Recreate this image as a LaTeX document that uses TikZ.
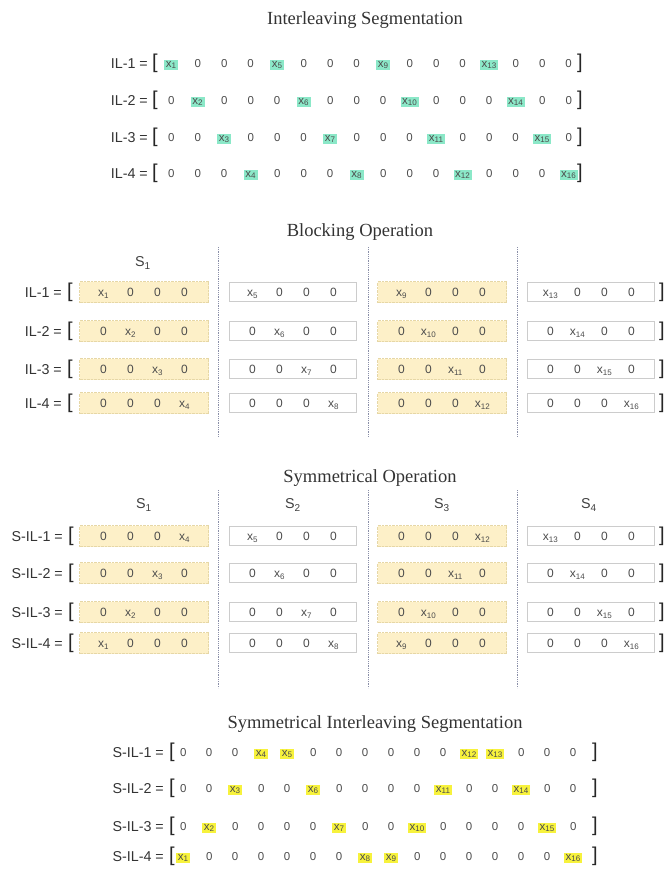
\documentclass[tikz,border=0pt]{standalone}
\usepackage{fontspec}
\setmainfont{Liberation Sans}
\newfontfamily\titlefont{Liberation Serif}

\definecolor{mint}{HTML}{8BE8C8}
\definecolor{hlyellow}{HTML}{F7F23C}
\definecolor{boxyellow}{HTML}{FDF0C8}
\definecolor{boxedge}{HTML}{E6D7A6}
\definecolor{sepgray}{HTML}{8A8FA8}

\newcommand{\cela}[1]{\makebox[26.5pt]{#1}}
\newcommand{\celb}[1]{\makebox[27pt]{#1}}
\newcommand{\celd}[1]{\makebox[26pt]{#1}}
\newcommand{\xs}[1]{x\textsubscript{#1}}
\newcommand{\hlg}[1]{{\setlength{\fboxsep}{1.5pt}\colorbox{mint}{#1}}}
\newcommand{\hly}[1]{{\setlength{\fboxsep}{1.5pt}\colorbox{hlyellow}{#1}}}

\begin{document}
\begin{tikzpicture}[x=1pt,y=-1pt,
  title/.style={font=\titlefont\fontsize{18.5}{20}\selectfont, text=black!80, inner sep=0},
  lbl/.style={anchor=east, font=\fontsize{14.3}{16}\selectfont, text=black!80, inner sep=0, text height=10.2pt, text depth=0pt},
  slbl/.style={font=\fontsize{14.3}{16}\selectfont, text=black!75, inner sep=0},
  brk/.style={font=\fontsize{20}{22}\selectfont, text=black!85, inner sep=0, text height=14.6pt, text depth=4.2pt},
  rowa/.style={anchor=west, inner sep=0, font=\fontsize{11.5}{13}\selectfont, text=black!70, text height=8.2pt, text depth=0pt},
  rowd/.style={anchor=west, inner sep=0, font=\fontsize{11.5}{13}\selectfont, text=black!70, text height=8.2pt, text depth=0pt},
  ybox/.style={fill=boxyellow, draw=boxedge, densely dotted, minimum width=129pt, minimum height=21pt, inner sep=0, font=\fontsize{12}{13}\selectfont, text=black!70, text height=8.6pt, text depth=0pt},
  wbox/.style={fill=white, draw=black!65, line width=0.6pt, double=black!20, double distance=0.7pt, minimum width=127pt, minimum height=19pt, inner sep=0, font=\fontsize{12}{13}\selectfont, text=black!70, text height=8.6pt, text depth=0pt},
  sepline/.style={sepgray, densely dotted, line width=0.8pt}]
\useasboundingbox (0,0) rectangle (665,869);

% Interleaving Segmentation
\node[title] (t-il) at (365,20) {Interleaving Segmentation};
\node[lbl] (il1-lb) at (148,63) {IL-1 =};
\node[lbl] (il2-lb) at (148,100) {IL-2 =};
\node[lbl] (il3-lb) at (148,137) {IL-3 =};
\node[lbl] (il4-lb) at (148,173) {IL-4 =};
\node[brk] (il1-l) at (155,63) {[};
\node[brk] (il2-l) at (155,100) {[};
\node[brk] (il3-l) at (155,137) {[};
\node[brk] (il4-l) at (155,173) {[};
\node[rowa] (il1) at (157.75,63) {\cela{\hlg{\xs{1}}}\cela{0}\cela{0}\cela{0}\cela{\hlg{\xs{5}}}\cela{0}\cela{0}\cela{0}\cela{\hlg{\xs{9}}}\cela{0}\cela{0}\cela{0}\cela{\hlg{\xs{13}}}\cela{0}\cela{0}\cela{0}};
\node[rowa] (il2) at (157.75,100) {\cela{0}\cela{\hlg{\xs{2}}}\cela{0}\cela{0}\cela{0}\cela{\hlg{\xs{6}}}\cela{0}\cela{0}\cela{0}\cela{\hlg{\xs{10}}}\cela{0}\cela{0}\cela{0}\cela{\hlg{\xs{14}}}\cela{0}\cela{0}};
\node[rowa] (il3) at (157.75,137) {\cela{0}\cela{0}\cela{\hlg{\xs{3}}}\cela{0}\cela{0}\cela{0}\cela{\hlg{\xs{7}}}\cela{0}\cela{0}\cela{0}\cela{\hlg{\xs{11}}}\cela{0}\cela{0}\cela{0}\cela{\hlg{\xs{15}}}\cela{0}};
\node[rowa] (il4) at (157.75,173) {\cela{0}\cela{0}\cela{0}\cela{\hlg{\xs{4}}}\cela{0}\cela{0}\cela{0}\cela{\hlg{\xs{8}}}\cela{0}\cela{0}\cela{0}\cela{\hlg{\xs{12}}}\cela{0}\cela{0}\cela{0}\cela{\hlg{\xs{16}}}};
\node[brk] (il1-r) at (580,63) {]};
\node[brk] (il2-r) at (580,100) {]};
\node[brk] (il3-r) at (580,137) {]};
\node[brk] (il4-r) at (580,173) {]};

% Blocking Operation
\node[title] (t-blk) at (360,232) {Blocking Operation};
\node[slbl] (b-s1) at (143,263) {S\textsubscript{1}};
\coordinate (b-sep1-t) at (218,247); \coordinate (b-sep1-b) at (218,437);
\coordinate (b-sep2-t) at (368,247); \coordinate (b-sep2-b) at (368,437);
\coordinate (b-sep3-t) at (517,247); \coordinate (b-sep3-b) at (517,437);
\draw[sepline] (b-sep1-t) -- (b-sep1-b);
\draw[sepline] (b-sep2-t) -- (b-sep2-b);
\draw[sepline] (b-sep3-t) -- (b-sep3-b);
\node[lbl] (b1-lb) at (62,292) {IL-1 =};
\node[lbl] (b2-lb) at (62,331) {IL-2 =};
\node[lbl] (b3-lb) at (62,369) {IL-3 =};
\node[lbl] (b4-lb) at (62,403) {IL-4 =};
\node[brk] (b1-l) at (70,292) {[};
\node[brk] (b2-l) at (70,331) {[};
\node[brk] (b3-l) at (70,369) {[};
\node[brk] (b4-l) at (70,403) {[};
\node[ybox] (b11) at (144,292) {\celb{\xs{1}}\celb{0}\celb{0}\celb{0}};
\node[ybox] (b21) at (144,331) {\celb{0}\celb{\xs{2}}\celb{0}\celb{0}};
\node[ybox] (b31) at (144,369) {\celb{0}\celb{0}\celb{\xs{3}}\celb{0}};
\node[ybox] (b41) at (144,403) {\celb{0}\celb{0}\celb{0}\celb{\xs{4}}};
\node[wbox] (b12) at (293,292) {\celb{\xs{5}}\celb{0}\celb{0}\celb{0}};
\node[wbox] (b22) at (293,331) {\celb{0}\celb{\xs{6}}\celb{0}\celb{0}};
\node[wbox] (b32) at (293,369) {\celb{0}\celb{0}\celb{\xs{7}}\celb{0}};
\node[wbox] (b42) at (293,403) {\celb{0}\celb{0}\celb{0}\celb{\xs{8}}};
\node[ybox] (b13) at (442,292) {\celb{\xs{9}}\celb{0}\celb{0}\celb{0}};
\node[ybox] (b23) at (442,331) {\celb{0}\celb{\xs{10}}\celb{0}\celb{0}};
\node[ybox] (b33) at (442,369) {\celb{0}\celb{0}\celb{\xs{11}}\celb{0}};
\node[ybox] (b43) at (442,403) {\celb{0}\celb{0}\celb{0}\celb{\xs{12}}};
\node[wbox] (b14) at (591,292) {\celb{\xs{13}}\celb{0}\celb{0}\celb{0}};
\node[wbox] (b24) at (591,331) {\celb{0}\celb{\xs{14}}\celb{0}\celb{0}};
\node[wbox] (b34) at (591,369) {\celb{0}\celb{0}\celb{\xs{15}}\celb{0}};
\node[wbox] (b44) at (591,403) {\celb{0}\celb{0}\celb{0}\celb{\xs{16}}};
\node[brk] (b1-r) at (662,292) {]};
\node[brk] (b2-r) at (662,331) {]};
\node[brk] (b3-r) at (662,369) {]};
\node[brk] (b4-r) at (662,403) {]};

% Symmetrical Operation
\node[title] (t-sym) at (370,478) {Symmetrical Operation};
\node[slbl] (s-s1) at (144,505) {S\textsubscript{1}};
\node[slbl] (s-s2) at (293,505) {S\textsubscript{2}};
\node[slbl] (s-s3) at (442,505) {S\textsubscript{3}};
\node[slbl] (s-s4) at (589,505) {S\textsubscript{4}};
\coordinate (s-sep1-t) at (218,490); \coordinate (s-sep1-b) at (218,688);
\coordinate (s-sep2-t) at (368,490); \coordinate (s-sep2-b) at (368,688);
\coordinate (s-sep3-t) at (517,490); \coordinate (s-sep3-b) at (517,688);
\draw[sepline] (s-sep1-t) -- (s-sep1-b);
\draw[sepline] (s-sep2-t) -- (s-sep2-b);
\draw[sepline] (s-sep3-t) -- (s-sep3-b);
\node[lbl] (s1-lb) at (63,536) {S-IL-1 =};
\node[lbl] (s2-lb) at (63,573) {S-IL-2 =};
\node[lbl] (s3-lb) at (63,612) {S-IL-3 =};
\node[lbl] (s4-lb) at (63,643) {S-IL-4 =};
\node[brk] (s1-l) at (71,536) {[};
\node[brk] (s2-l) at (71,573) {[};
\node[brk] (s3-l) at (71,612) {[};
\node[brk] (s4-l) at (71,643) {[};
\node[ybox] (s11) at (144,536) {\celb{0}\celb{0}\celb{0}\celb{\xs{4}}};
\node[ybox] (s21) at (144,573) {\celb{0}\celb{0}\celb{\xs{3}}\celb{0}};
\node[ybox] (s31) at (144,612) {\celb{0}\celb{\xs{2}}\celb{0}\celb{0}};
\node[ybox] (s41) at (144,643) {\celb{\xs{1}}\celb{0}\celb{0}\celb{0}};
\node[wbox] (s12) at (293,536) {\celb{\xs{5}}\celb{0}\celb{0}\celb{0}};
\node[wbox] (s22) at (293,573) {\celb{0}\celb{\xs{6}}\celb{0}\celb{0}};
\node[wbox] (s32) at (293,612) {\celb{0}\celb{0}\celb{\xs{7}}\celb{0}};
\node[wbox] (s42) at (293,643) {\celb{0}\celb{0}\celb{0}\celb{\xs{8}}};
\node[ybox] (s13) at (442,536) {\celb{0}\celb{0}\celb{0}\celb{\xs{12}}};
\node[ybox] (s23) at (442,573) {\celb{0}\celb{0}\celb{\xs{11}}\celb{0}};
\node[ybox] (s33) at (442,612) {\celb{0}\celb{\xs{10}}\celb{0}\celb{0}};
\node[ybox] (s43) at (442,643) {\celb{\xs{9}}\celb{0}\celb{0}\celb{0}};
\node[wbox] (s14) at (591,536) {\celb{\xs{13}}\celb{0}\celb{0}\celb{0}};
\node[wbox] (s24) at (591,573) {\celb{0}\celb{\xs{14}}\celb{0}\celb{0}};
\node[wbox] (s34) at (591,612) {\celb{0}\celb{0}\celb{\xs{15}}\celb{0}};
\node[wbox] (s44) at (591,643) {\celb{0}\celb{0}\celb{0}\celb{\xs{16}}};
\node[brk] (s1-r) at (662,536) {]};
\node[brk] (s2-r) at (662,573) {]};
\node[brk] (s3-r) at (662,612) {]};
\node[brk] (s4-r) at (662,643) {]};

% Symmetrical Interleaving Segmentation
\node[title] (t-sil) at (375,724) {Symmetrical Interleaving Segmentation};
\node[lbl] (sil1-lb) at (164,752) {S-IL-1 =};
\node[lbl] (sil2-lb) at (164,788) {S-IL-2 =};
\node[lbl] (sil3-lb) at (164,826) {S-IL-3 =};
\node[lbl] (sil4-lb) at (164,856) {S-IL-4 =};
\node[brk] (sil1-l) at (172,752) {[};
\node[brk] (sil2-l) at (172,788) {[};
\node[brk] (sil3-l) at (172,826) {[};
\node[brk] (sil4-l) at (172,856) {[};
\node[rowd] (sil1) at (170,752) {\celd{0}\celd{0}\celd{0}\celd{\hly{\xs{4}}}\celd{\hly{\xs{5}}}\celd{0}\celd{0}\celd{0}\celd{0}\celd{0}\celd{0}\celd{\hly{\xs{12}}}\celd{\hly{\xs{13}}}\celd{0}\celd{0}\celd{0}};
\node[rowd] (sil2) at (170,788) {\celd{0}\celd{0}\celd{\hly{\xs{3}}}\celd{0}\celd{0}\celd{\hly{\xs{6}}}\celd{0}\celd{0}\celd{0}\celd{0}\celd{\hly{\xs{11}}}\celd{0}\celd{0}\celd{\hly{\xs{14}}}\celd{0}\celd{0}};
\node[rowd] (sil3) at (170,826) {\celd{0}\celd{\hly{\xs{2}}}\celd{0}\celd{0}\celd{0}\celd{0}\celd{\hly{\xs{7}}}\celd{0}\celd{0}\celd{\hly{\xs{10}}}\celd{0}\celd{0}\celd{0}\celd{0}\celd{\hly{\xs{15}}}\celd{0}};
\node[rowd] (sil4) at (170,856) {\celd{\hly{\xs{1}}}\celd{0}\celd{0}\celd{0}\celd{0}\celd{0}\celd{0}\celd{\hly{\xs{8}}}\celd{\hly{\xs{9}}}\celd{0}\celd{0}\celd{0}\celd{0}\celd{0}\celd{0}\celd{\hly{\xs{16}}}};
\node[brk] (sil1-r) at (595,752) {]};
\node[brk] (sil2-r) at (595,788) {]};
\node[brk] (sil3-r) at (595,826) {]};
\node[brk] (sil4-r) at (595,856) {]};
\end{tikzpicture}
\end{document}
